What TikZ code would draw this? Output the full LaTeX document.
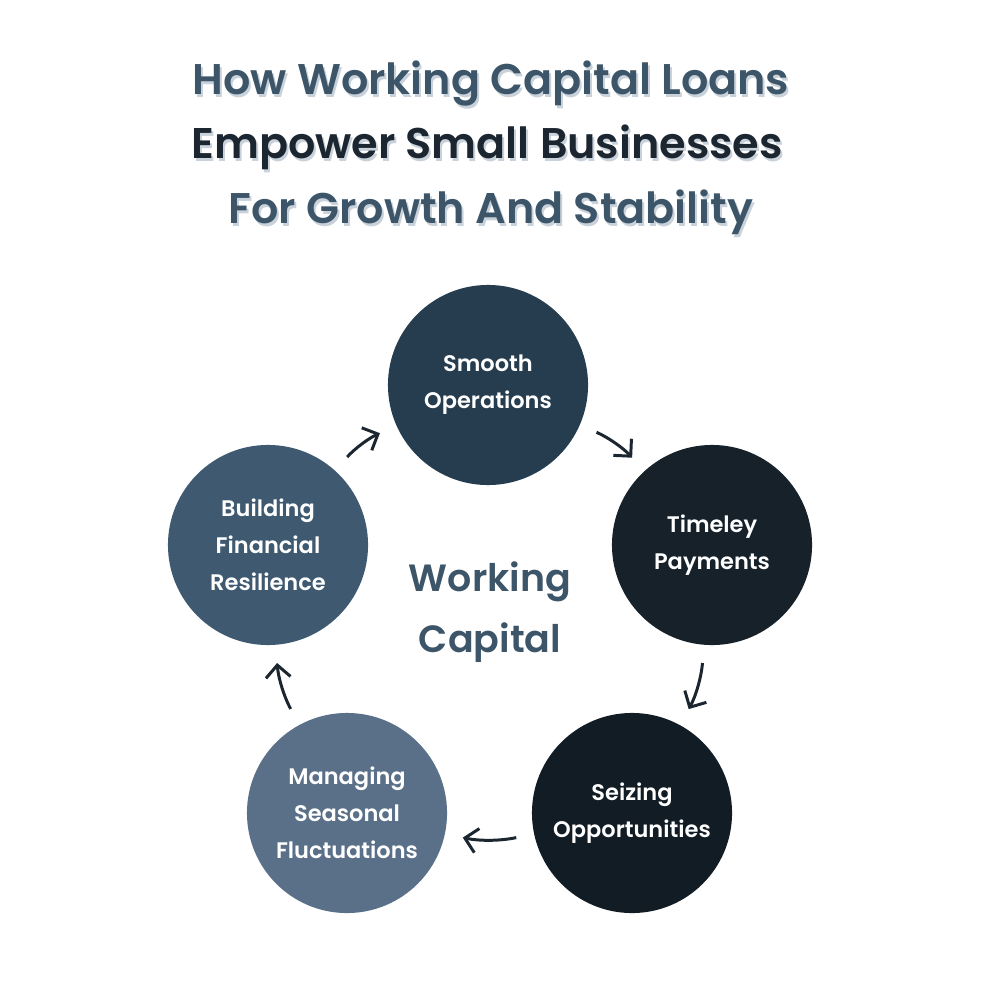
\documentclass[tikz,border=0pt]{standalone}
\usepackage{fontspec}
\setmainfont{Poppins}[UprightFont=* SemiBold]
\usetikzlibrary{positioning,arrows.meta}
\definecolor{topc}{HTML}{263D4F}
\definecolor{timec}{HTML}{16212A}
\definecolor{seizec}{HTML}{121C24}
\definecolor{managec}{HTML}{5A7088}
\definecolor{buildc}{HTML}{3F5A70}
\definecolor{slate}{HTML}{3D5568}
\definecolor{ink}{HTML}{1C2630}
\definecolor{shade}{HTML}{C9D2DA}
\tikzset{ell/.style={circle,fill=#1,minimum size=2cm,inner sep=0pt,text=white,align=center,font=\fontsize{6.4}{10.5}\selectfont},
         head/.style={font=\fontsize{12.2}{14}\selectfont},
         link/.style={-{Straight Barb[length=3.5pt,width=7pt]},line width=0.85pt,draw=ink,shorten >=5pt,shorten <=5pt}}
\begin{document}
\begin{tikzpicture}[x=0.01cm,y=-0.01cm]
        \useasboundingbox (0,0) rectangle (982,982);
        % title
        \node[head,text=shade] at (493,87) {How Working Capital Loans};
        \node[head,text=slate] (t1) at (491,84) {How Working Capital Loans};
        \node[head,text=shade] at (489,150) {Empower Small Businesses};
        \node[head,text=ink] (t2) at (487,147) {Empower Small Businesses};
        \node[head,text=shade] at (493,215) {For Growth And Stability};
        \node[head,text=slate] (t3) at (491,212) {For Growth And Stability};

        \node[ell=topc] (smooth) at (488,385) {Smooth\\Operations};
        \node[ell=timec] (time) at (712,545) {Timeley\\Payments};
        \node[ell=seizec] (seize) at (632,813) {Seizing\\Opportunities};
        \node[ell=managec] (manage) at (347,813) {Managing\\Seasonal\\Fluctuations};
        \node[ell=buildc] (build) at (268,545) {Building\\Financial\\Resilience};
        \node[text=slate,align=center,font=\fontsize{10.8}{17.5}\selectfont] (wc) at (490,612) {Working\\Capital};

        \draw[link] (smooth) to[bend left=12] (time);
        \draw[link] (time) to[bend left=12] (seize);
        \draw[link] (seize) to[bend left=12] (manage);
        \draw[link] (manage) to[bend left=12] (build);
        \draw[link] (build) to[bend left=12] (smooth);
\end{tikzpicture}
\end{document}
